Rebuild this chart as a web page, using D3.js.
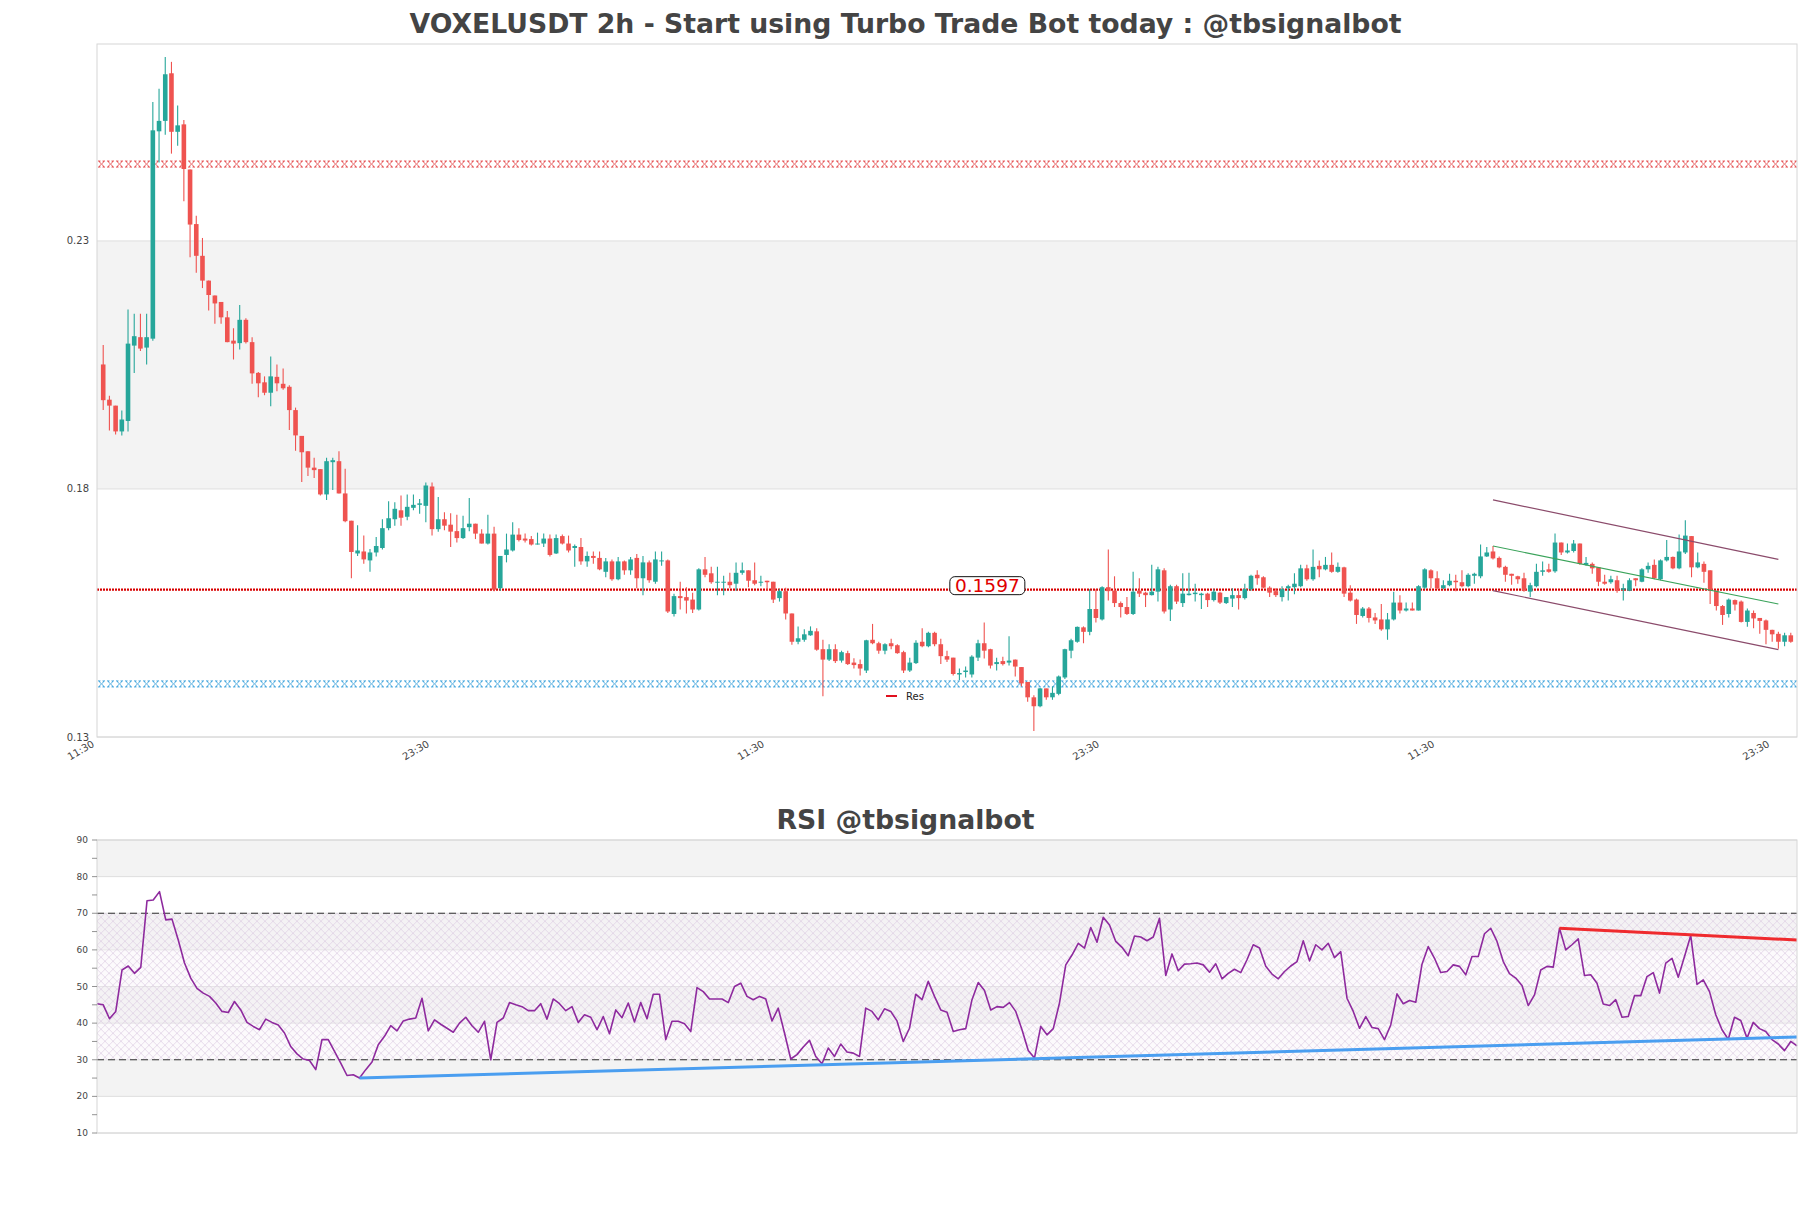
<!DOCTYPE html>
<html><head><meta charset="utf-8">
<script src="https://cdn.jsdelivr.net/npm/d3@7"></script>
<style>body{margin:0;background:#fff;}svg{display:block;font-family:"DejaVu Sans",sans-serif;}</style>
</head><body><svg id="c" width="1811" height="1208"></svg>
<script>
// ---------------- DATA ----------------
const opens=[0.2051,0.1980,0.1968,0.1916,0.1937,0.2089,0.2106,0.2085,0.2103,0.2521,
0.2542,0.2638,0.2520,0.2535,0.2444,0.2334,0.2270,0.2220,0.2190,0.2177,
0.2146,0.2099,0.2094,0.2141,0.2096,0.2034,0.2015,0.1994,0.2026,0.2012,
0.2006,0.1959,0.1907,0.1876,0.1843,0.1840,0.1789,0.1854,0.1856,0.1791,
0.1736,0.1670,0.1674,0.1656,0.1672,0.1681,0.1721,0.1739,0.1757,0.1744,
0.1762,0.1768,0.1766,0.1805,0.1719,0.1739,0.1728,0.1715,0.1701,0.1723,
0.1730,0.1710,0.1690,0.1710,0.1600,0.1667,0.1676,0.1708,0.1700,0.1699,
0.1688,0.1690,0.1700,0.1670,0.1705,0.1690,0.1681,0.1683,0.1654,0.1665,
0.1661,0.1633,0.1654,0.1618,0.1654,0.1636,0.1661,0.1620,0.1652,0.1613,
0.1654,0.1656,0.1548,0.1584,0.1582,0.1577,0.1557,0.1638,0.1630,0.1611,
0.1611,0.1613,0.1609,0.1631,0.1636,0.1616,0.1611,0.1615,0.1613,0.1580,
0.1594,0.1549,0.1492,0.1496,0.1505,0.1513,0.1477,0.1456,0.1477,0.1454,
0.1469,0.1450,0.1447,0.1434,0.1496,0.1489,0.1474,0.1489,0.1485,0.1471,
0.1434,0.1449,0.1492,0.1483,0.1510,0.1487,0.1463,0.1460,0.1426,0.1431,
0.1426,0.1460,0.1489,0.1477,0.1447,0.1453,0.1450,0.1456,0.1441,0.1411,
0.1380,0.1362,0.1398,0.1380,0.1387,0.1420,0.1474,0.1492,0.1521,0.1512,
0.1558,0.1537,0.1602,0.1595,0.1570,0.1562,0.1548,0.1595,0.1591,0.1586,
0.1593,0.1636,0.1557,0.1604,0.1570,0.1586,0.1588,0.1586,0.1589,0.1576,
0.1591,0.1570,0.1579,0.1586,0.1580,0.1598,0.1627,0.1622,0.1601,0.1594,
0.1582,0.1600,0.1602,0.1604,0.1640,0.1618,0.1645,0.1638,0.1647,0.1633,
0.1642,0.1591,0.1577,0.1544,0.1559,0.1541,0.1537,0.1517,0.1537,0.1571,
0.1555,0.1559,0.1555,0.1601,0.1636,0.1620,0.1600,0.1606,0.1615,0.1612,
0.1604,0.1625,0.1624,0.1664,0.1674,0.1661,0.1643,0.1629,0.1624,0.1620,
0.1593,0.1604,0.1633,0.1638,0.1634,0.1692,0.1672,0.1675,0.1690,0.1647,
0.1649,0.1642,0.1613,0.1612,0.1616,0.1597,0.1595,0.1620,0.1613,0.1638,
0.1647,0.1618,0.1656,0.1663,0.1640,0.1672,0.1705,0.1642,0.1649,0.1636,
0.1595,0.1564,0.1548,0.1576,0.1573,0.1532,0.1550,0.1540,0.1535,0.1516,
0.1508,0.1492,0.1505];
const highs=[0.2090,0.1988,0.1968,0.1958,0.2162,0.2153,0.2153,0.2153,0.2580,0.2607,
0.2671,0.2661,0.2573,0.2544,0.2444,0.2351,0.2306,0.2220,0.2190,0.2177,
0.2159,0.2124,0.2171,0.2144,0.2106,0.2036,0.2027,0.2067,0.2051,0.2043,
0.2009,0.1964,0.1907,0.1876,0.1863,0.1840,0.1863,0.1863,0.1876,0.1841,
0.1736,0.1727,0.1706,0.1679,0.1703,0.1739,0.1775,0.1773,0.1787,0.1789,
0.1789,0.1780,0.1813,0.1813,0.1784,0.1753,0.1751,0.1748,0.1746,0.1782,
0.1730,0.1719,0.1748,0.1724,0.1665,0.1710,0.1733,0.1721,0.1710,0.1705,
0.1712,0.1710,0.1708,0.1708,0.1708,0.1706,0.1688,0.1701,0.1674,0.1674,
0.1674,0.1661,0.1658,0.1663,0.1656,0.1663,0.1669,0.1665,0.1656,0.1674,
0.1674,0.1658,0.1589,0.1613,0.1602,0.1591,0.1640,0.1663,0.1643,0.1643,
0.1625,0.1631,0.1652,0.1652,0.1636,0.1652,0.1625,0.1615,0.1613,0.1598,
0.1601,0.1549,0.1523,0.1517,0.1523,0.1519,0.1496,0.1487,0.1487,0.1474,
0.1474,0.1459,0.1456,0.1496,0.1528,0.1492,0.1489,0.1498,0.1487,0.1474,
0.1460,0.1495,0.1519,0.1512,0.1512,0.1498,0.1474,0.1460,0.1438,0.1442,
0.1465,0.1496,0.1531,0.1478,0.1460,0.1462,0.1503,0.1456,0.1441,0.1411,
0.1384,0.1399,0.1398,0.1402,0.1424,0.1478,0.1498,0.1523,0.1523,0.1598,
0.1598,0.1604,0.1678,0.1624,0.1573,0.1582,0.1633,0.1620,0.1593,0.1647,
0.1643,0.1640,0.1607,0.1607,0.1630,0.1631,0.1609,0.1591,0.1591,0.1598,
0.1593,0.1582,0.1600,0.1598,0.1609,0.1627,0.1636,0.1624,0.1604,0.1600,
0.1604,0.1607,0.1630,0.1647,0.1647,0.1678,0.1656,0.1663,0.1672,0.1652,
0.1643,0.1606,0.1579,0.1562,0.1562,0.1550,0.1568,0.1550,0.1593,0.1586,
0.1571,0.1571,0.1606,0.1640,0.1638,0.1634,0.1616,0.1629,0.1627,0.1636,
0.1630,0.1631,0.1688,0.1683,0.1685,0.1664,0.1645,0.1629,0.1625,0.1631,
0.1611,0.1649,0.1654,0.1649,0.1710,0.1692,0.1690,0.1697,0.1690,0.1663,
0.1652,0.1642,0.1627,0.1625,0.1625,0.1609,0.1620,0.1620,0.1640,0.1652,
0.1658,0.1658,0.1697,0.1664,0.1708,0.1737,0.1705,0.1672,0.1654,0.1636,
0.1595,0.1566,0.1579,0.1577,0.1575,0.1559,0.1555,0.1540,0.1537,0.1516,
0.1512,0.1510,0.1510];
const lows=[0.1959,0.1918,0.1910,0.1908,0.1916,0.2034,0.2078,0.2051,0.2099,0.2458,
0.2514,0.2476,0.2492,0.2380,0.2267,0.2236,0.2205,0.2160,0.2133,0.2133,
0.2096,0.2061,0.2081,0.2093,0.2012,0.1985,0.1989,0.1967,0.1997,0.2000,
0.1919,0.1877,0.1814,0.1826,0.1822,0.1787,0.1778,0.1798,0.1791,0.1733,
0.1620,0.1665,0.1649,0.1633,0.1664,0.1678,0.1717,0.1726,0.1726,0.1737,
0.1757,0.1750,0.1733,0.1706,0.1714,0.1717,0.1683,0.1692,0.1699,0.1715,
0.1699,0.1690,0.1688,0.1594,0.1595,0.1652,0.1674,0.1694,0.1692,0.1686,
0.1688,0.1683,0.1664,0.1669,0.1688,0.1672,0.1643,0.1647,0.1643,0.1649,
0.1636,0.1622,0.1615,0.1616,0.1627,0.1627,0.1600,0.1586,0.1611,0.1609,
0.1645,0.1550,0.1543,0.1557,0.1549,0.1550,0.1555,0.1622,0.1609,0.1586,
0.1586,0.1600,0.1595,0.1627,0.1602,0.1606,0.1604,0.1595,0.1570,0.1573,
0.1537,0.1486,0.1487,0.1492,0.1504,0.1474,0.1382,0.1453,0.1449,0.1450,
0.1445,0.1438,0.1424,0.1429,0.1487,0.1468,0.1467,0.1477,0.1468,0.1429,
0.1431,0.1447,0.1481,0.1481,0.1483,0.1447,0.1451,0.1424,0.1415,0.1420,
0.1420,0.1453,0.1458,0.1438,0.1434,0.1444,0.1444,0.1422,0.1402,0.1371,
0.1312,0.1360,0.1375,0.1375,0.1384,0.1417,0.1459,0.1490,0.1489,0.1505,
0.1531,0.1535,0.1575,0.1562,0.1541,0.1546,0.1546,0.1582,0.1562,0.1585,
0.1573,0.1549,0.1534,0.1568,0.1562,0.1585,0.1573,0.1558,0.1562,0.1573,
0.1568,0.1568,0.1562,0.1557,0.1577,0.1595,0.1607,0.1600,0.1582,0.1582,
0.1573,0.1575,0.1588,0.1602,0.1615,0.1615,0.1622,0.1636,0.1631,0.1631,
0.1582,0.1573,0.1528,0.1541,0.1531,0.1528,0.1514,0.1496,0.1535,0.1549,
0.1553,0.1555,0.1555,0.1598,0.1600,0.1598,0.1598,0.1604,0.1594,0.1602,
0.1602,0.1609,0.1620,0.1663,0.1658,0.1640,0.1613,0.1607,0.1609,0.1593,
0.1582,0.1602,0.1625,0.1631,0.1631,0.1667,0.1670,0.1672,0.1647,0.1645,
0.1629,0.1604,0.1607,0.1609,0.1591,0.1575,0.1594,0.1604,0.1612,0.1631,
0.1618,0.1616,0.1654,0.1638,0.1638,0.1669,0.1622,0.1640,0.1611,0.1568,
0.1555,0.1526,0.1541,0.1555,0.1531,0.1522,0.1519,0.1508,0.1487,0.1492,
0.1478,0.1483,0.1490];
const closes=[0.1979,0.1968,0.1916,0.1940,0.2093,0.2108,0.2083,0.2106,0.2523,0.2542,
0.2636,0.2520,0.2533,0.2445,0.2333,0.2270,0.2220,0.2191,0.2174,0.2146,
0.2096,0.2093,0.2141,0.2096,0.2033,0.2013,0.1994,0.2027,0.2013,0.2003,
0.1959,0.1908,0.1874,0.1843,0.1838,0.1789,0.1856,0.1858,0.1791,0.1735,
0.1673,0.1676,0.1658,0.1672,0.1685,0.1721,0.1741,0.1760,0.1742,0.1764,
0.1768,0.1771,0.1807,0.1719,0.1739,0.1726,0.1714,0.1701,0.1721,0.1730,
0.1710,0.1690,0.1710,0.1597,0.1665,0.1678,0.1708,0.1697,0.1696,0.1688,
0.1690,0.1700,0.1667,0.1701,0.1690,0.1676,0.1685,0.1654,0.1665,0.1661,
0.1638,0.1654,0.1618,0.1654,0.1636,0.1658,0.1620,0.1652,0.1616,0.1658,
0.1656,0.1553,0.1584,0.1580,0.1575,0.1557,0.1638,0.1627,0.1612,0.1613,
0.1613,0.1606,0.1631,0.1636,0.1615,0.1609,0.1613,0.1612,0.1577,0.1594,
0.1549,0.1492,0.1499,0.1507,0.1514,0.1476,0.1456,0.1477,0.1453,0.1471,
0.1447,0.1445,0.1438,0.1495,0.1489,0.1474,0.1487,0.1483,0.1469,0.1434,
0.1450,0.1490,0.1483,0.1510,0.1487,0.1463,0.1456,0.1427,0.1429,0.1434,
0.1462,0.1489,0.1474,0.1444,0.1451,0.1447,0.1454,0.1442,0.1408,0.1380,
0.1362,0.1398,0.1380,0.1389,0.1422,0.1477,0.1495,0.1522,0.1512,0.1558,
0.1540,0.1602,0.1594,0.1570,0.1562,0.1548,0.1593,0.1589,0.1586,0.1593,
0.1638,0.1553,0.1604,0.1573,0.1589,0.1589,0.1591,0.1589,0.1576,0.1593,
0.1571,0.1582,0.1586,0.1580,0.1598,0.1625,0.1620,0.1601,0.1591,0.1586,
0.1598,0.1604,0.1609,0.1640,0.1618,0.1643,0.1638,0.1647,0.1633,0.1643,
0.1589,0.1575,0.1546,0.1559,0.1540,0.1535,0.1517,0.1537,0.1571,0.1555,
0.1559,0.1555,0.1604,0.1638,0.1620,0.1600,0.1606,0.1615,0.1612,0.1604,
0.1627,0.1629,0.1664,0.1672,0.1660,0.1642,0.1627,0.1625,0.1618,0.1595,
0.1606,0.1633,0.1636,0.1633,0.1692,0.1672,0.1676,0.1690,0.1649,0.1651,
0.1640,0.1613,0.1609,0.1618,0.1595,0.1600,0.1616,0.1616,0.1638,0.1645,
0.1620,0.1656,0.1663,0.1640,0.1674,0.1706,0.1642,0.1652,0.1633,0.1595,
0.1564,0.1546,0.1577,0.1567,0.1532,0.1555,0.1539,0.1534,0.1516,0.1507,
0.1492,0.1505,0.1492];
const rsiValues=[45.3,45.0,41.2,43.2,54.5,55.6,53.6,55.2,73.4,73.6,
75.9,68.2,68.4,62.7,56.4,52.3,49.5,48.2,47.3,45.5,
43.2,42.9,45.9,43.6,40.2,39.1,38.2,41.1,40.2,39.5,
37.3,33.6,31.6,30.2,29.8,27.3,35.5,35.5,32.3,29.1,
25.7,25.9,25.0,27.3,29.4,34.1,36.4,39.3,37.9,40.6,
41.1,41.4,46.8,37.9,40.9,39.7,38.6,37.5,40.0,41.6,
39.3,37.5,40.5,30.0,40.2,41.4,45.6,45.0,44.5,43.4,
43.4,45.3,41.1,46.6,45.3,43.4,44.5,40.2,42.3,41.6,
38.2,41.8,37.1,43.6,41.5,45.5,40.3,45.6,41.2,47.9,
47.9,35.5,40.5,40.5,39.8,37.7,49.7,48.6,46.6,46.6,
46.6,45.6,50.0,50.9,47.3,46.4,47.3,46.6,40.6,44.1,
37.3,30.2,31.4,33.5,35.3,30.9,28.9,33.2,30.9,34.3,
32.1,31.8,30.9,44.1,43.2,40.9,43.9,43.2,40.6,35.0,
38.6,47.9,46.4,51.4,47.3,43.6,43.0,37.7,38.2,38.5,
46.4,51.1,48.9,43.6,44.5,44.3,45.6,43.2,38.2,32.5,
30.5,39.1,36.8,38.5,45.5,55.9,58.6,61.8,60.5,66.1,
62.1,68.9,66.8,62.3,60.7,58.4,63.8,63.5,62.5,63.5,
68.6,53.0,58.9,54.3,56.1,56.2,56.4,55.9,53.9,56.2,
52.1,53.6,54.7,53.8,57.3,61.4,60.5,55.5,53.4,52.1,
54.1,55.6,56.8,62.5,57.0,61.4,60.0,61.8,57.9,59.5,
46.8,43.2,38.6,41.8,38.8,38.5,35.5,39.5,48.0,45.3,
46.2,45.7,56.1,60.9,57.7,53.8,54.1,55.9,55.5,53.2,
58.2,58.2,64.4,65.9,62.3,56.8,53.5,52.3,50.3,44.8,
47.7,54.5,55.5,55.3,65.9,60.0,61.4,63.0,53.0,53.2,
50.9,45.2,44.8,46.4,41.6,41.8,47.5,47.5,52.7,53.8,
48.2,56.4,57.7,52.5,58.2,63.9,50.6,51.8,48.6,42.3,
38.2,35.6,41.6,40.7,35.9,40.2,38.5,37.7,35.5,34.3,
32.5,35.0,33.8];
const xTickLabels=["11:30","23:30","11:30","23:30","11:30","23:30"];
const xTickIndex=[-1,53,107,161,215,269];
const priceTicks=[0.13,0.18,0.23];
const priceBand=[0.18,0.23];
const priceDomain=[0.13,0.2697];
const resistanceZone=0.2455;
const supportZone=0.1407;
const keyLevel=0.1597;
const keyLevelLabelIndex=142.5;
const channelUpper=[[224,0.1778],[270,0.1658]];
const channelMid=[[224,0.1685],[270,0.1568]];
const channelLower=[[224,0.1595],[270,0.1476]];
const rsiTicks=[10,20,30,40,50,60,70,80,90];
const rsiMinorTicks=[15,25,35,45,55,65,75,85];
const rsiBands=[[80,90],[60,70],[40,50],[20,30]];
const rsiOverbought=70, rsiOversold=30;
const rsiSupportLine=[[42,25.0],[272,36.2]];
const rsiResistLine=[[234,65.9],[272,62.7]];
const mainTitle="VOXELUSDT 2h - Start using Turbo Trade Bot today : @tbsignalbot";
const rsiTitle="RSI @tbsignalbot";

// ---------------- LAYOUT ----------------
const L=97,R=1797,T1=44,B1=737,T2=840,B2=1133;
const svg=d3.select("#c");
const defs=svg.append("defs");
const UP="#26a69a",DOWN="#ef5350",TXT="#444";

const x=d3.scaleLinear().domain([-1,273]).range([L,R]);
const y=d3.scaleLinear().domain(priceDomain).range([B1,T1]);
const xr=d3.scaleLinear().domain([0,rsiValues.length-1]).range([L,R]);
const yr=d3.scaleLinear().domain([10,90]).range([B2,T2]);

// titles
svg.append("text").attr("x",905.5).attr("y",32.5).attr("text-anchor","middle")
  .attr("font-size",26.7).attr("font-weight","bold").attr("fill",TXT).text(mainTitle);
svg.append("text").attr("x",905.5).attr("y",829).attr("text-anchor","middle")
  .attr("font-size",26.7).attr("font-weight","bold").attr("fill",TXT).text(rsiTitle);

// ---------------- MAIN ----------------
defs.append("clipPath").attr("id","clipMain").append("rect").attr("x",L).attr("y",T1).attr("width",R-L).attr("height",B1-T1);
const g=svg.append("g");
g.append("rect").attr("x",L).attr("y",y(priceBand[1])).attr("width",R-L)
  .attr("height",y(priceBand[0])-y(priceBand[1])).attr("fill","#f3f3f3");
g.selectAll("line.grid").data(priceTicks).join("line").attr("class","grid")
  .attr("x1",L).attr("x2",R).attr("y1",d=>y(d)).attr("y2",d=>y(d)).attr("stroke","#dedede");

function hatchBand(id,level,color){
  const yc=y(level);
  const p=defs.append("pattern").attr("id",id).attr("patternUnits","userSpaceOnUse")
    .attr("width",9).attr("height",7).attr("x",L).attr("y",yc-3.5);
  p.append("path").attr("d","M1.5,0.5L7.5,6.5M7.5,0.5L1.5,6.5M1,0.5H3.5M5.5,0.5H8M1,6.5H3.5M5.5,6.5H8")
    .attr("stroke",color).attr("stroke-width",0.85).attr("fill","none");
  g.append("rect").attr("x",L).attr("y",yc-3.5).attr("width",R-L).attr("height",7).attr("fill",`url(#${id})`);
}
hatchBand("hR",resistanceZone,"#e2393b");
hatchBand("hB",supportZone,"#2b9ad8");

// key level dotted line
g.append("line").attr("x1",L).attr("x2",R).attr("y1",y(keyLevel)).attr("y2",y(keyLevel))
  .attr("stroke","#d80000").attr("stroke-width",2.2).attr("stroke-dasharray","2,1");

// candles
const candles=opens.map((o,i)=>({i,o,h:highs[i],l:lows[i],c:closes[i]}));
const cg=g.append("g").attr("clip-path","url(#clipMain)");
cg.selectAll("line.wick").data(candles).join("line").attr("class","wick")
  .attr("x1",d=>x(d.i)).attr("x2",d=>x(d.i)).attr("y1",d=>y(d.h)).attr("y2",d=>y(d.l))
  .attr("stroke",d=>d.c>=d.o?UP:DOWN).attr("stroke-width",1.1);
const bw=4.6;
cg.selectAll("rect.body").data(candles).join("rect").attr("class","body")
  .attr("x",d=>x(d.i)-bw/2).attr("width",bw)
  .attr("y",d=>y(Math.max(d.o,d.c))).attr("height",d=>Math.max(1,Math.abs(y(d.o)-y(d.c))))
  .attr("fill",d=>d.c>=d.o?UP:DOWN);

// channel lines
const ln=d3.line().x(d=>x(d[0])).y(d=>y(d[1]));
g.append("path").attr("d",ln(channelUpper)).attr("stroke","#8b4b6b").attr("stroke-width",1.2).attr("fill","none");
g.append("path").attr("d",ln(channelLower)).attr("stroke","#8b4b6b").attr("stroke-width",1.2).attr("fill","none");
g.append("path").attr("d",ln(channelMid)).attr("stroke","#3aa35a").attr("stroke-width",1.1).attr("fill","none");

// key level label
const lx=x(keyLevelLabelIndex), ly=y(keyLevel)-4;
g.append("rect").attr("x",lx-37.5).attr("y",ly-9).attr("width",75).attr("height",18).attr("rx",5)
  .attr("fill","#fff").attr("stroke","#111").attr("stroke-width",1);
g.append("text").attr("x",lx).attr("y",ly+6.5).attr("text-anchor","middle").attr("font-size",18.5)
  .attr("fill","#e00000").text(keyLevel.toFixed(4));

// legend
g.append("line").attr("x1",886).attr("x2",897).attr("y1",696).attr("y2",696).attr("stroke","#e0101e").attr("stroke-width",2);
g.append("text").attr("x",906).attr("y",699.5).attr("font-size",10).attr("fill","#222").text("Res");

// frame
g.append("rect").attr("x",L).attr("y",T1).attr("width",R-L).attr("height",B1-T1).attr("fill","none").attr("stroke","#d6d6d6");

// axis labels
g.selectAll("text.py").data(priceTicks).join("text").attr("class","py")
  .attr("x",89).attr("y",d=>y(d)+3.5).attr("text-anchor","end").attr("font-size",10).attr("fill",TXT).text(d=>d.toFixed(2));
g.selectAll("text.px").data(xTickIndex).join("text").attr("class","px")
  .attr("transform",d=>`translate(${x(d)-2},746) rotate(-30)`).attr("text-anchor","end")
  .attr("font-size",10).attr("fill",TXT).text((d,k)=>xTickLabels[k]);

// ---------------- RSI ----------------
const r=svg.append("g");
r.selectAll("rect.band").data(rsiBands).join("rect").attr("class","band")
  .attr("x",L).attr("width",R-L).attr("y",d=>yr(d[1])).attr("height",d=>yr(d[0])-yr(d[1])).attr("fill","#f3f3f3");
r.selectAll("line.grid").data(rsiTicks).join("line").attr("class","grid")
  .attr("x1",L).attr("x2",R).attr("y1",d=>yr(d)).attr("y2",d=>yr(d)).attr("stroke","#dedede");
const ph=defs.append("pattern").attr("id","rsiHatch").attr("patternUnits","userSpaceOnUse")
  .attr("width",8).attr("height",8).attr("x",L).attr("y",yr(rsiOverbought));
ph.append("path").attr("d","M0,0L8,8M8,0L0,8").attr("stroke","#d9c8df").attr("stroke-width",0.6).attr("fill","none");
r.append("rect").attr("x",L).attr("width",R-L).attr("y",yr(rsiOverbought)).attr("height",yr(rsiOversold)-yr(rsiOverbought))
  .attr("fill","#f6f0f7").attr("opacity",0.35);
r.append("rect").attr("x",L).attr("width",R-L).attr("y",yr(rsiOverbought)).attr("height",yr(rsiOversold)-yr(rsiOverbought))
  .attr("fill","url(#rsiHatch)");
r.selectAll("line.lim").data([rsiOverbought,rsiOversold]).join("line").attr("class","lim")
  .attr("x1",L).attr("x2",R).attr("y1",d=>yr(d)).attr("y2",d=>yr(d))
  .attr("stroke","#333").attr("stroke-width",1.2).attr("stroke-dasharray","7,4");
r.append("path").attr("d",d3.line().x((d,i)=>xr(i)).y(d=>yr(d))(rsiValues))
  .attr("fill","none").attr("stroke","#8e2a9e").attr("stroke-width",1.6).attr("stroke-linejoin","round");
const lr=d3.line().x(d=>xr(d[0])).y(d=>yr(d[1]));
r.append("path").attr("d",lr(rsiSupportLine)).attr("stroke","#4a9ef0").attr("stroke-width",3).attr("fill","none");
r.append("path").attr("d",lr(rsiResistLine)).attr("stroke","#ef2a2e").attr("stroke-width",3).attr("fill","none");
r.append("rect").attr("x",L).attr("y",T2).attr("width",R-L).attr("height",B2-T2).attr("fill","none").attr("stroke","#d6d6d6");
r.selectAll("line.tk").data(rsiTicks.concat(rsiMinorTicks)).join("line").attr("class","tk")
  .attr("x1",92).attr("x2",L).attr("y1",d=>yr(d)).attr("y2",d=>yr(d)).attr("stroke","#777").attr("stroke-width",0.8);
r.selectAll("text.ry").data(rsiTicks).join("text").attr("class","ry")
  .attr("x",88).attr("y",d=>yr(d)+3).attr("text-anchor","end").attr("font-size",9).attr("fill",TXT).text(d=>d);
</script></body></html>
